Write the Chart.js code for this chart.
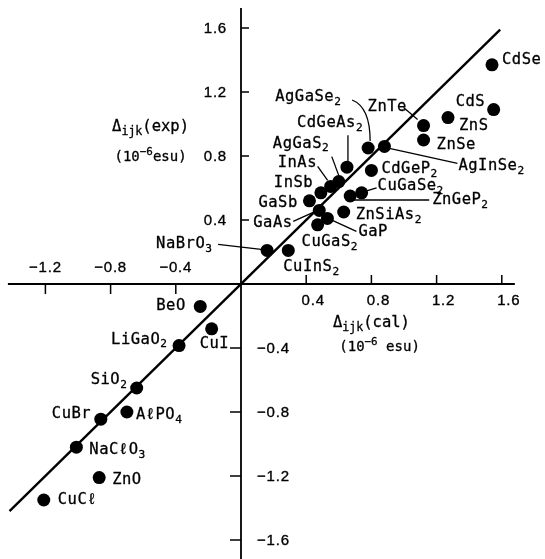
<!DOCTYPE html>
<html>
<head>
<meta charset="utf-8">
<script src="https://cdn.jsdelivr.net/npm/chart.js@4.4.1/dist/chart.umd.min.js"></script>
<style>
html,body{margin:0;padding:0;background:#fff;}
#wrap{width:545px;height:559px;position:relative;}
</style>
</head>
<body>
<div id="wrap"><canvas id="c" width="545" height="559"></canvas></div>
<script>
// ---- data ----
const names = ['CdSe','CdS','ZnS','ZnTe','ZnSe','AgGaSe_{2}','AgInSe_{2}','CdGeAs_{2}','CdGeP_{2}','AgGaS_{2}',
  'InAs','InSb','GaSb','GaAs','GaP','CuGaS_{2}','ZnSiAs_{2}','CuGaSe_{2}','ZnGeP_{2}','NaBrO_{3}','CuInS_{2}',
  'BeO','CuI','LiGaO_{2}','SiO_{2}','AℓPO_{4}','CuBr','NaCℓO_{3}','ZnO','CuCℓ'];
const calVals = [1.54,1.55,1.27,1.12,1.12,0.78,0.88,0.65,0.80,0.60,
  0.55,0.49,0.42,0.48,0.53,0.47,0.63,0.74,0.67,0.16,0.29,
  -0.25,-0.18,-0.38,-0.64,-0.70,-0.86,-1.01,-0.87,-1.21];
const expVals = [1.37,1.09,1.04,0.99,0.90,0.85,0.86,0.73,0.71,0.64,
  0.61,0.57,0.52,0.46,0.41,0.37,0.45,0.57,0.55,0.21,0.21,
  -0.14,-0.28,-0.385,-0.65,-0.80,-0.845,-1.02,-1.21,-1.35];
const fitX = [-1.42, 1.59];
const fitY = [-1.42, 1.59];
const xTicks = [-1.2,-0.8,-0.4,0.4,0.8,1.2,1.6];
const xTickLabels = ['−1.2','−0.8','−0.4','0.4','0.8','1.2','1.6'];
const yTicks = [-1.6,-1.2,-0.8,-0.4,0.4,0.8,1.2,1.6];
const yTickLabels = ['−1.6','−1.2','−0.8','−0.4','0.4','0.8','1.2','1.6'];

// ---- label layout (pixel offsets from each point) ----
const labelLayout = [
  {dx:10,dy:-5},
  {dx:-38,dy:-8},
  {dx:11,dy:8},
  {dx:-56,dy:-19, leader:[[-20,-18],[-6,-6]]},
  {dx:13,dy:5},
  {dx:-93,dy:-51, curve:[[-16,-48],[-6,-44],[2,-33],[2,-7]]},
  {dx:74,dy:20, leader:[[73,17],[5,2]]},
  {dx:-50,dy:-44, leader:[[1,-32],[1,-6]]},
  {dx:10,dy:-1},
  {dx:-66,dy:-38, leader:[[-7,-25],[0,-6]]},
  {dx:-53,dy:-23, leader:[[-13,-20],[-3,-6]]},
  {dx:-47,dy:-10},
  {dx:-51,dy:2},
  {dx:-66,dy:13, leader:[[-26,11],[-6,2]]},
  {dx:31,dy:14, leader:[[29,13],[5,2]]},
  {dx:-16,dy:17},
  {dx:12,dy:3},
  {dx:16,dy:-7, leader:[[15,-5],[5,-2]]},
  {dx:82,dy:4, leader:[[79,4],[4,4]]},
  {dx:-111,dy:-6, leader:[[-49,-6],[-6,-1]]},
  {dx:-5,dy:17},
  {dx:-44,dy:0},
  {dx:-12,dy:15},
  {dx:-68,dy:-6},
  {dx:-46,dy:-8},
  {dx:9,dy:3},
  {dx:-49,dy:-5},
  {dx:13,dy:3},
  {dx:13,dy:2},
  {dx:14,dy:0}
];

const SANS = '"Liberation Sans", Arial, Helvetica, sans-serif';
const MONO = '"DejaVu Sans Mono", "Liberation Mono", monospace';

function segs(text){
  const out=[]; const re=/([_^])\{([^}]*)\}/g; let last=0,m;
  while((m=re.exec(text))){
    if(m.index>last) out.push({t:text.slice(last,m.index),k:''});
    out.push({t:m[2],k:m[1]}); last=re.lastIndex;
  }
  if(last<text.length) out.push({t:text.slice(last),k:''});
  return out;
}
function drawRich(ctx,text,x,cy,size,align,font,subScale,sw){
  subScale = subScale||0.72;
  const parts = segs(text).map(p=>{
    const fs = p.k? size*subScale : size;
    ctx.font = fs+'px '+font;
    return Object.assign({}, p, {fs, pw: ctx.measureText(p.t).width});
  });
  const w = parts.reduce((a,p)=>a+p.pw,0);
  let cx = align==='center'? x-w/2 : align==='right'? x-w : x;
  ctx.textBaseline='middle'; ctx.textAlign='left'; ctx.fillStyle='#000';
  ctx.strokeStyle='#000'; ctx.lineWidth=sw==null?0.3:sw; ctx.lineJoin='round';
  parts.forEach(p=>{
    ctx.font = p.fs+'px '+font;
    const dy = p.k==='_'? size*0.32 : p.k==='^'? -size*0.38 : 0;
    ctx.fillText(p.t,cx,cy+dy);
    if(ctx.lineWidth>0) ctx.strokeText(p.t,cx,cy+dy);
    cx+=p.pw;
  });
}

const axesPlugin = {
  id:'crossAxes',
  beforeDatasetsDraw(chart){
    const ctx=chart.ctx, xs=chart.scales.x, ys=chart.scales.y;
    const x0=xs.getPixelForValue(0), y0=ys.getPixelForValue(0);
    ctx.save();
    ctx.strokeStyle='#000'; ctx.lineWidth=1.8; ctx.lineCap='butt';
    ctx.beginPath();
    ctx.moveTo(xs.getPixelForValue(-1.43), y0); ctx.lineTo(xs.getPixelForValue(1.68), y0);
    ctx.moveTo(x0, ys.getPixelForValue(1.725)); ctx.lineTo(x0, ys.getPixelForValue(-1.75));
    ctx.stroke();
    ctx.lineWidth=1.5;
    ctx.beginPath();
    xTicks.forEach(v=>{
      const px=xs.getPixelForValue(v);
      ctx.moveTo(px,y0); ctx.lineTo(px, v<0? y0+10 : y0-9);
    });
    yTicks.forEach(v=>{
      const py=ys.getPixelForValue(v);
      ctx.moveTo(x0,py); ctx.lineTo(v<0? x0-11 : x0+8, py);
    });
    ctx.stroke();
    ctx.letterSpacing='0.8px';
    xTicks.forEach((v,i)=>{
      const px=xs.getPixelForValue(v);
      if(v<0) drawRich(ctx,xTickLabels[i],px,y0-16,15,'center',SANS,0.72,0.35);
      else drawRich(ctx,xTickLabels[i],px+7,y0+17,15,'center',SANS,0.72,0.35);
    });
    yTicks.forEach((v,i)=>{
      const py=ys.getPixelForValue(v);
      if(v<0) drawRich(ctx,yTickLabels[i],x0+16,py+1,15,'left',SANS,0.72,0.35);
      else drawRich(ctx,yTickLabels[i],x0-14,py+1,15,'right',SANS,0.72,0.35);
    });
    // axis titles
    ctx.letterSpacing='0px';
    drawRich(ctx,'Δ_{ijk}(exp)',xs.getPixelForValue(-0.555),ys.getPixelForValue(0.98),15.5,'center',MONO,0.75);
    drawRich(ctx,'(10^{−6}esu)',xs.getPixelForValue(-0.555),ys.getPixelForValue(0.79),14,'center',MONO,0.78);
    drawRich(ctx,'Δ_{ijk}(cal)',xs.getPixelForValue(0.80),ys.getPixelForValue(-0.244),15.5,'center',MONO,0.75);
    drawRich(ctx,'(10^{−6} esu)',xs.getPixelForValue(0.85),ys.getPixelForValue(-0.394),14,'center',MONO,0.78);
    ctx.restore();
  },
  afterDatasetsDraw(chart){
    const ctx=chart.ctx, xs=chart.scales.x, ys=chart.scales.y;
    ctx.save();
    ctx.letterSpacing='0.5px';
    names.forEach((n,i)=>{
      const px=xs.getPixelForValue(calVals[i]), py=ys.getPixelForValue(expVals[i]);
      const L=labelLayout[i];
      ctx.strokeStyle='#000'; ctx.lineWidth=1.3;
      if(L.leader){
        ctx.beginPath();
        ctx.moveTo(px+L.leader[0][0],py+L.leader[0][1]);
        ctx.lineTo(px+L.leader[1][0],py+L.leader[1][1]);
        ctx.stroke();
      }
      if(L.curve){
        const c=L.curve;
        ctx.beginPath();
        ctx.moveTo(px+c[0][0],py+c[0][1]);
        ctx.bezierCurveTo(px+c[1][0],py+c[1][1],px+c[2][0],py+c[2][1],px+c[3][0],py+c[3][1]);
        ctx.stroke();
      }
      drawRich(ctx,n,px+L.dx,py+L.dy,15.5,'left',MONO,0.72);
    });
    ctx.restore();
  }
};

const pts = calVals.map((x,i)=>({x, y:expVals[i]}));
const fitPts = fitX.map((x,i)=>({x, y:fitY[i]}));

new Chart(document.getElementById('c'),{
  type:'scatter',
  data:{datasets:[
    {type:'line', data:fitPts, borderColor:'#000', borderWidth:2.4, pointRadius:0, fill:false, order:2, clip:false},
    {data:pts, backgroundColor:'#000', borderWidth:0, pointRadius:6.5, pointHoverRadius:6.5, order:1, clip:false}
  ]},
  options:{
    responsive:false, animation:false, devicePixelRatio:1,
    layout:{padding:0, autoPadding:false},
    plugins:{legend:{display:false}, tooltip:{enabled:false}},
    scales:{
      x:{type:'linear', display:false, min:-241/163, max:(545-241)/163},
      y:{type:'linear', display:false, min:-(559-284)/160, max:284/160}
    }
  },
  plugins:[axesPlugin]
});
</script>
</body>
</html>
